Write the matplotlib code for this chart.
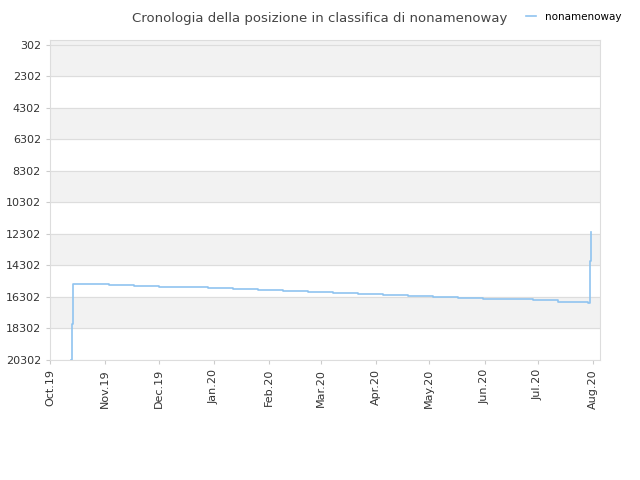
import matplotlib
matplotlib.use("Agg")
import matplotlib.pyplot as plt
import matplotlib.dates as mdates
import pandas as pd

dates = pd.to_datetime([
    "2019-10-13 00:00", "2019-10-13 12:00", "2019-10-14 00:00", "2019-10-20 00:00", "2019-11-03 00:00",
    "2019-11-17 00:00", "2019-12-01 00:00", "2019-12-15 00:00", "2019-12-29 00:00", "2020-01-12 00:00",
    "2020-01-26 00:00", "2020-02-09 00:00", "2020-02-23 00:00", "2020-03-08 00:00", "2020-03-22 00:00",
    "2020-04-05 00:00", "2020-04-19 00:00", "2020-05-03 00:00", "2020-05-17 00:00", "2020-05-31 00:00",
    "2020-06-14 00:00", "2020-06-28 00:00", "2020-07-12 00:00", "2020-07-29 00:00", "2020-07-30 00:00",
    "2020-07-30 12:00", "2020-07-31 00:00",
], format="%Y-%m-%d %H:%M")
ranks = [
    20302, 18000, 15450, 15480, 15530, 15580, 15640, 15700, 15760, 15820,
    15880, 15940, 16000, 16060, 16120, 16180, 16240, 16290, 16340, 16400,
    16460, 16520, 16600, 16680, 14000, 12900, 12200,
]
series_name = "nonamenoway"
title = "Cronologia della posizione in classifica di nonamenoway"
yticks = list(range(302, 20303, 2000))

fig = plt.figure(figsize=(6.4, 4.8), dpi=100)
ax = fig.add_axes([0.078, 0.25, 0.86, 0.667])
ax.step(dates, ranks, where="post", color="#90c4f0", linewidth=1.2, label=series_name)

ax.set_ylim(20302, -16)
ax.set_yticks(yticks)
ax.set_yticklabels([str(t) for t in yticks], fontsize=8, color="#333333")
for i, t in enumerate(yticks[:-1]):
    if i % 2 == 0:
        lo = -16 if i == 0 else t
        ax.axhspan(lo, t + 2000, color="#f2f2f2", zorder=0)
ax.grid(axis="y", color="#dddddd", linewidth=0.8)

ax.set_xlim(pd.Timestamp("2019-10-01"), pd.Timestamp("2020-08-05"))
ax.xaxis.set_major_locator(mdates.MonthLocator())
ax.xaxis.set_major_formatter(mdates.DateFormatter("%b.%y"))
plt.setp(ax.get_xticklabels(), rotation=90, fontsize=8, color="#333333")
ax.tick_params(length=3, color="#cccccc")
for s in ax.spines.values():
    s.set_color("#dddddd")

fig.text(0.5, 0.975, title, ha="center", va="top", fontsize=9.5, color="#444444")
fig.legend(loc="upper right", bbox_to_anchor=(0.985, 0.995), frameon=False,
           fontsize=7.5, handlelength=1.0)
fig.savefig("out.png", dpi=100)
